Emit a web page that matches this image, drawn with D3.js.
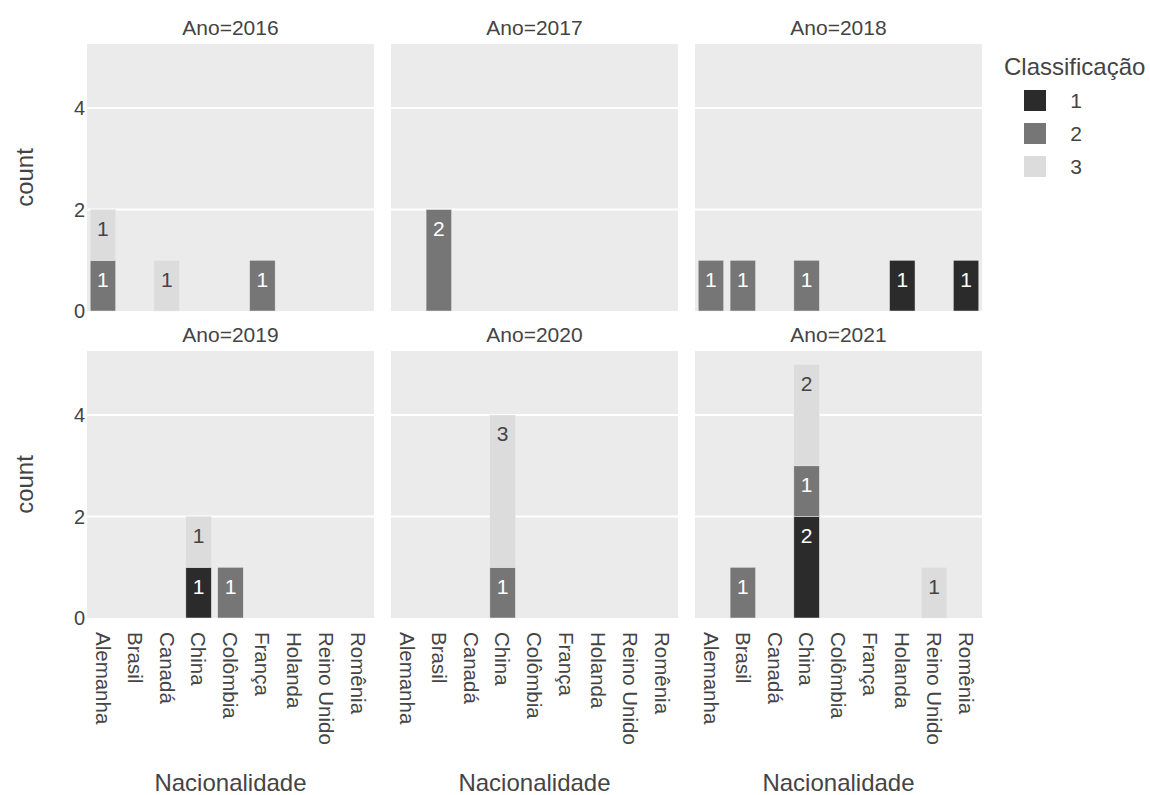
<!DOCTYPE html>
<html>
<head>
    <title>Classificação por Nacionalidade</title>
    <script src="https://cdn.jsdelivr.net/npm/d3@7"></script>
    <style>
        body {
            margin: 0;
            background: #fff;
            font-family: "Liberation Sans", Arial, sans-serif;
        }
    </style>
</head>
<body>
    <svg width="1150" height="795" id="mainsvg" style="display: block;"></svg>
    <script>
        const anos = [2016, 2017, 2018, 2019, 2020, 2021];
        const nacionalidades = ['Alemanha', 'Brasil', 'Canadá', 'China', 'Colômbia', 'França', 'Holanda', 'Reino Unido', 'Romênia'];
        const classes = ['1', '2', '3'];
        const yTicks = [0, 2, 4];

        // counts per year (rows) and nationality (columns)
        const classe1 = [
            [0, 0, 0, 0, 0, 0, 0, 0, 0],
            [0, 0, 0, 0, 0, 0, 0, 0, 0],
            [0, 0, 0, 0, 0, 0, 1, 0, 1],
            [0, 0, 0, 1, 0, 0, 0, 0, 0],
            [0, 0, 0, 0, 0, 0, 0, 0, 0],
            [0, 0, 0, 2, 0, 0, 0, 0, 0]
        ];
        const classe2 = [
            [1, 0, 0, 0, 0, 1, 0, 0, 0],
            [0, 2, 0, 0, 0, 0, 0, 0, 0],
            [1, 1, 0, 1, 0, 0, 0, 0, 0],
            [0, 0, 0, 0, 1, 0, 0, 0, 0],
            [0, 0, 0, 1, 0, 0, 0, 0, 0],
            [0, 1, 0, 1, 0, 0, 0, 0, 0]
        ];
        const classe3 = [
            [1, 0, 1, 0, 0, 0, 0, 0, 0],
            [0, 0, 0, 0, 0, 0, 0, 0, 0],
            [0, 0, 0, 0, 0, 0, 0, 0, 0],
            [0, 0, 0, 1, 0, 0, 0, 0, 0],
            [0, 0, 0, 3, 0, 0, 0, 0, 0],
            [0, 0, 0, 2, 0, 0, 0, 1, 0]
        ];

        const colors = { '1': '#2b2b2b', '2': '#767676', '3': '#dcdcdc' };
        const textColors = { '1': '#ffffff', '2': '#ffffff', '3': '#444444' };

        const svg = d3.select('#mainsvg');
        const colLeft = [87, 391, 695];
        const rowTop = [44, 351];
        const pw = 287;
        const ph = 267;

        const xScale = d3.scaleBand()
            .domain(nacionalidades)
            .range([0, pw])
            .paddingInner(0.2)
            .paddingOuter(0.1);

        const yScale = d3.scaleLinear()
            .domain([0, 5.263])
            .range([ph, 0]);

        const stack = d3.stack().keys(classes);

        anos.forEach((ano, i) => {
            const col = i % 3;
            const row = Math.floor(i / 3);
            const g = svg.append('g')
                .attr('transform', `translate(${colLeft[col]}, ${rowTop[row]})`);

            g.append('rect')
                .attr('width', pw)
                .attr('height', ph)
                .attr('fill', '#ebebeb');

            // gridlines
            g.selectAll('.grid')
                .data(yTicks.filter(t => t > 0))
                .enter()
                .append('line')
                    .attr('x1', 0)
                    .attr('x2', pw)
                    .attr('y1', d => yScale(d))
                    .attr('y2', d => yScale(d))
                    .attr('stroke', '#fff')
                    .attr('stroke-width', 2);

            const rows = nacionalidades.map((n, j) => ({
                nac: n,
                '1': classe1[i][j],
                '2': classe2[i][j],
                '3': classe3[i][j]
            }));
            const series = stack(rows);

            series.forEach(s => {
                const segs = s.filter(d => d[1] - d[0] > 0);
                g.selectAll(null)
                    .data(segs)
                    .enter()
                    .append('rect')
                        .attr('x', d => xScale(d.data.nac))
                        .attr('width', xScale.bandwidth())
                        .attr('y', d => yScale(d[1]))
                        .attr('height', d => yScale(d[0]) - yScale(d[1]))
                        .attr('fill', colors[s.key])
                        .attr('stroke', '#ebebeb')
                        .attr('stroke-width', 0.5);

                g.selectAll(null)
                    .data(segs)
                    .enter()
                    .append('text')
                        .attr('x', d => xScale(d.data.nac) + xScale.bandwidth() / 2)
                        .attr('y', d => yScale(d[1]) + 19)
                        .attr('dy', '0.35em')
                        .attr('text-anchor', 'middle')
                        .attr('font-size', 21)
                        .attr('fill', textColors[s.key])
                        .text(d => d[1] - d[0]);
            });

            // facet title
            svg.append('text')
                .attr('x', colLeft[col] + pw / 2)
                .attr('y', rowTop[row] - 9)
                .attr('text-anchor', 'middle')
                .attr('font-size', 21)
                .attr('fill', '#444')
                .text('Ano=' + ano);

            // y tick labels on first column
            if (col === 0) {
                g.selectAll('.ytick')
                    .data(yTicks)
                    .enter()
                    .append('text')
                        .attr('x', -2)
                        .attr('y', d => yScale(d))
                        .attr('dy', '0.35em')
                        .attr('text-anchor', 'end')
                        .attr('font-size', 20)
                        .attr('fill', '#444')
                        .text(d => d);

                svg.append('text')
                    .attr('transform', `translate(33, ${rowTop[row] + ph / 2}) rotate(-90)`)
                    .attr('text-anchor', 'middle')
                    .attr('font-size', 24)
                    .attr('fill', '#444')
                    .text('count');
            }

            // x tick labels and title on bottom row
            if (row === 1) {
                g.selectAll('.xtick')
                    .data(nacionalidades)
                    .enter()
                    .append('text')
                        .attr('transform', d => `translate(${xScale(d) + xScale.bandwidth() / 2}, ${ph + 14}) rotate(90)`)
                        .attr('dy', '0.35em')
                        .attr('text-anchor', 'start')
                        .attr('font-size', 20.5)
                        .attr('fill', '#444')
                        .text(d => d);

                svg.append('text')
                    .attr('x', colLeft[col] + pw / 2)
                    .attr('y', 791)
                    .attr('text-anchor', 'middle')
                    .attr('font-size', 24)
                    .attr('fill', '#444')
                    .text('Nacionalidade');
            }
        });

        // legend
        const legend = svg.append('g');
        legend.append('text')
            .attr('x', 1004)
            .attr('y', 75)
            .attr('font-size', 24)
            .attr('fill', '#444')
            .text('Classificação');

        const items = legend.selectAll('.item')
            .data(classes)
            .enter()
            .append('g')
                .attr('transform', (d, k) => `translate(1024, ${90 + k * 33})`);
        items.append('rect')
            .attr('width', 22)
            .attr('height', 21)
            .attr('fill', d => colors[d]);
        items.append('text')
            .attr('x', 52)
            .attr('y', 10.5)
            .attr('dy', '0.35em')
            .attr('text-anchor', 'middle')
            .attr('font-size', 21)
            .attr('fill', '#444')
            .text(d => d);
    </script>
</body>
</html>
